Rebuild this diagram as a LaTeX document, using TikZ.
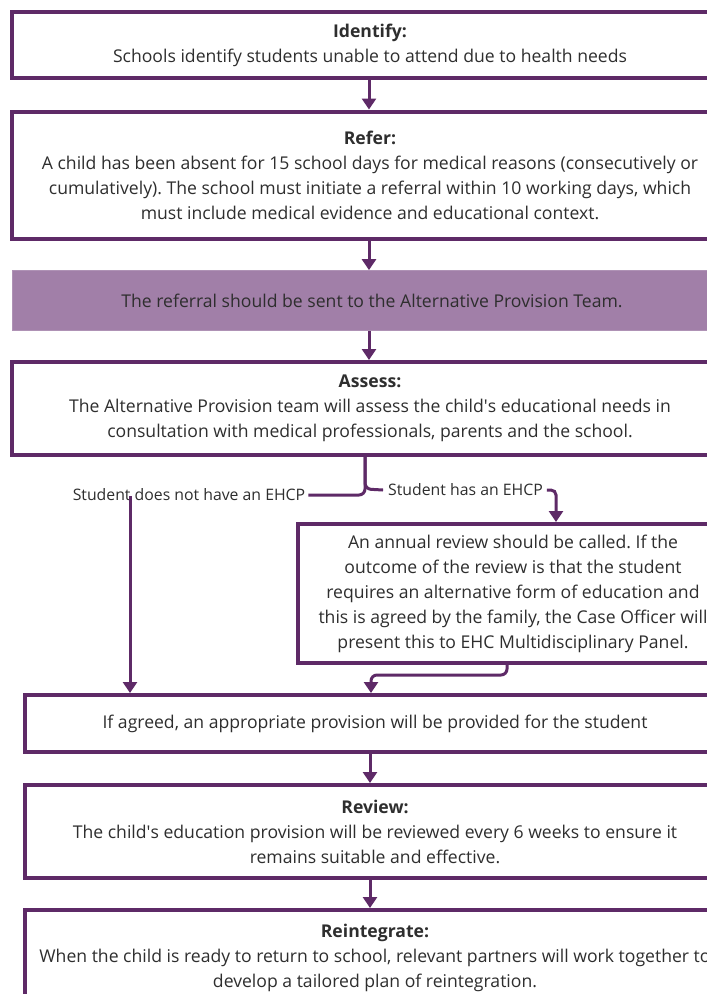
\documentclass[tikz,border=0pt]{standalone}
\usepackage{fontspec}
\setmainfont{Open Sans}
\usetikzlibrary{arrows.meta}
\definecolor{dpurple}{HTML}{5E2A67}
\definecolor{lpurple}{HTML}{A17FA8}
\definecolor{txt}{HTML}{2E2E2E}
\frenchspacing
\begin{document}
\begin{tikzpicture}[x=1pt,y=-1pt,
  stepbox/.style={draw=dpurple,line width=4pt,fill=white,inner sep=0pt,align=center,text=txt,
    font=\fontsize{17.6}{25}\selectfont},
  band/.style={fill=lpurple,draw=lpurple!85!white,line width=0.8pt,inner sep=0pt,align=center,text=txt,
    font=\fontsize{17.6}{25}\selectfont},
  lbl/.style={inner sep=0pt,text=txt,font=\fontsize{15.8}{18}\selectfont,anchor=center},
  arr/.style={draw=dpurple,line width=3pt,-{Triangle[length=11pt,width=14pt]}},
  conn/.style={draw=dpurple,line width=3pt,rounded corners=6pt}]
\useasboundingbox (0,0) rectangle (707,994);
\fill[white] (0,0) rectangle (707,994);
\clip (0,0) rectangle (707,994);

\node[stepbox,minimum width=716pt,minimum height=66pt] (identify) at (370,45)
  {\textbf{Identify:}\\Schools identify students unable to attend due to health needs};
\node[stepbox,minimum width=716pt,minimum height=127pt] (refer) at (370,175)
  {\textbf{Refer:}\\A child has been absent for 15 school days for medical reasons (consecutively or\\
   cumulatively). The school must initiate a referral within 10 working days, which\\
   must include medical evidence and educational context.};
\node[band,minimum width=720pt,minimum height=60pt] (team) at (372,300.5)
  {The referral should be sent to the Alternative Provision Team.};
\node[stepbox,minimum width=716pt,minimum height=93pt] (assess) at (370,408.5)
  {\textbf{Assess:}\\The Alternative Provision team will assess the child\textquotesingle s educational needs in\\
   consultation with medical professionals, parents and the school.};
\node[lbl] (noehcp) at (189,495) {Student does not have an EHCP};
\node[lbl] (ehcp) at (465.5,490) {Student has an EHCP};
\node[stepbox,minimum width=430pt,minimum height=139pt] (review1) at (513,593.5)
  {An annual review should be called. If the\\
   outcome of the review is that the student\\
   requires an alternative form of education and\\
   this is agreed by the family, the Case Officer will\\
   present this to EHC Multidisciplinary Panel.};
\node[stepbox,minimum width=700pt,minimum height=57pt] (provide) at (375,723.5)
  {If agreed, an appropriate provision will be provided for the student};
\node[stepbox,minimum width=700pt,minimum height=93pt] (review) at (375,831.5)
  {\textbf{Review:}\\The child\textquotesingle s education provision will be reviewed every 6 weeks to ensure it\\
   remains suitable and effective.};
\node[stepbox,minimum width=700pt,minimum height=96pt] (reint) at (375,958)
  {\textbf{Reintegrate:}\\When the child is ready to return to school, relevant partners will work together to\\
   develop a tailored plan of reintegration.};

\draw[arr] (identify.south -| 369,0) -- (refer.north -| 369,0);
\draw[arr] (refer.south -| 369,0) -- (team.north -| 369,0);
\draw[arr] (team.south -| 369,0) -- (assess.north -| 369,0);
\draw[conn] (assess.south -| 365,0) -- (365,495) -- ([xshift=3pt]noehcp.east);
\draw[conn] (assess.south -| 365,0) -- (365,489) -- ([xshift=-5pt]ehcp.west);
\draw[arr,rounded corners=5pt] ([xshift=4pt]ehcp.east) -- (556,490) -- (review1.north -| 556,0);
\draw[arr] ([yshift=5pt]noehcp.south -| 130,0) -- (provide.north -| 130,0);
\draw[arr,rounded corners=6pt] (review1.south -| 507,0) -- (507,675) -- (371,675) -- (provide.north -| 371,0);
\draw[arr] (provide.south -| 370,0) -- (review.north -| 370,0);
\draw[arr] (review.south -| 370,0) -- (reint.north -| 370,0);
\end{tikzpicture}
\end{document}
